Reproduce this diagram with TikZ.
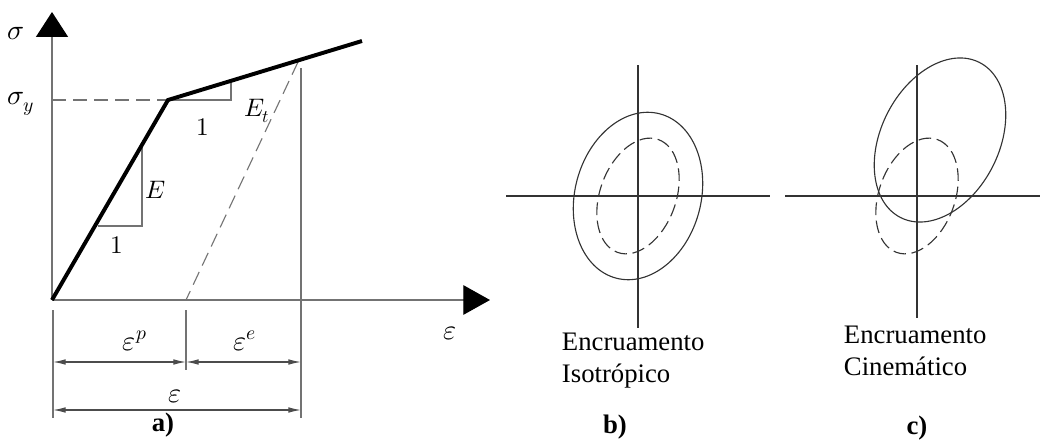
\documentclass[tikz,border=0pt]{standalone}
\usepackage{fontspec}
\usepackage{unicode-math}
\setmainfont{Liberation Serif}
\setmathfont{Latin Modern Math}
\usetikzlibrary{arrows.meta}

\tikzset{
  axis/.style={draw=black!55, line width=0.9pt},
  thinline/.style={draw=black!55, line width=0.8pt},
  curve/.style={line width=2.8pt, line join=miter},
  dimline/.style={draw=black!70, line width=0.8pt, {Latex[length=9pt,width=4pt]}-{Latex[length=9pt,width=4pt]}},
  lbl/.style={font=\fontsize{18}{20}\selectfont},
  glbl/.style={font=\fontsize{20}{22}\selectfont},
  caption/.style={font=\fontsize{19}{22.7}\selectfont, align=left, anchor=west},
  tag/.style={font=\fontsize{19}{22}\selectfont\bfseries},
  surf/.style={draw=black!80, line width=0.8pt},
  surfdash/.style={surf, dash pattern=on 9pt off 4pt},
}

\begin{document}
\begin{tikzpicture}[x=0.025cm, y=-0.025cm]
  \useasboundingbox (0,0) rectangle (1040,441);

  % a) stress-strain diagram
  \coordinate (O) at (52,300);
  \coordinate (Y) at (168,100);
  \coordinate (P) at (362,41);
  \coordinate (U) at (298,62);
  \coordinate (R) at (186,300);

  % axes
  \draw[axis, -{Triangle[width=22.7pt,length=17.7pt,color=black]}] (O) -- (52,12);
  \draw[axis, -{Triangle[width=21pt,length=19pt,color=black]}] (O) -- (490,300);
  \node[glbl] (sig) at (16,34) {$\sigma$};
  \node[glbl] (sigy) at (21,104) {$\sigma_y$};
  \node[glbl] (eps) at (450,333) {$\varepsilon$};

  % yield level and unloading
  \draw[thinline, dash pattern=on 10pt off 5pt] (O |- Y) -- (Y);
  \draw[thinline, dash pattern=on 10pt off 5pt] (U) -- (R);
  \draw[thinline] (301,68) -- (301,418);

  % slope triangles
  \draw[thinline] (98,226) -- (142,226) -- (142,147);
  \draw[thinline] (Y) -- (231,100) -- (231,81);
  \node[lbl] (E) at (156,190) {$E$};
  \node[lbl] (one1) at (117,245) {$1$};
  \node[lbl] (one2) at (203,127) {$1$};
  \node[lbl] (Et) at (257,111) {$E_t$};

  % bilinear curve
  \draw[curve] (O) -- (Y) -- (P);

  % dimensions
  \draw[thinline] (53,310) -- (53,418);
  \draw[thinline] (186,310) -- (186,370);
  \draw[dimline] (53,362) -- (186,362);
  \draw[dimline] (186,362) -- (301,362);
  \draw[dimline] (53,410) -- (301,410);
  \node[glbl] (epsp) at (135,341) {$\varepsilon^p$};
  \node[glbl] (epse) at (245,341) {$\varepsilon^e$};
  \node[glbl] (epst) at (175,396) {$\varepsilon$};
  \node[tag] (taga) at (163,425) {a)};

  % b) isotropic hardening
  \coordinate (B) at (638,196);
  \draw[surf] (506,196) -- (770,196);
  \draw[surf] (638,65) -- (638,328);
  \draw[surf, rotate around={75:(B)}] (B) ellipse [x radius=85, y radius=63];
  \draw[surfdash, rotate around={70:(B)}] (B) ellipse [x radius=60, y radius=38];
  \node[caption] (capb) at (557,361) {Encruamento\\Isotrópico};
  \node[tag] (tagb) at (615,427) {b)};

  % c) kinematic hardening
  \coordinate (C) at (917,196);
  \coordinate (C2) at (940,140);
  \draw[surf] (785,196) -- (1040,196);
  \draw[surf] (917,65) -- (917,318);
  \draw[surf, rotate around={63:(C2)}] (C2) ellipse [x radius=87, y radius=59];
  \draw[surfdash, rotate around={70:(C)}] (C) ellipse [x radius=60, y radius=38];
  \node[caption] (capc) at (839,351) {Encruamento\\Cinemático};
  \node[tag] (tagc) at (917,428) {c)};
\end{tikzpicture}
\end{document}
